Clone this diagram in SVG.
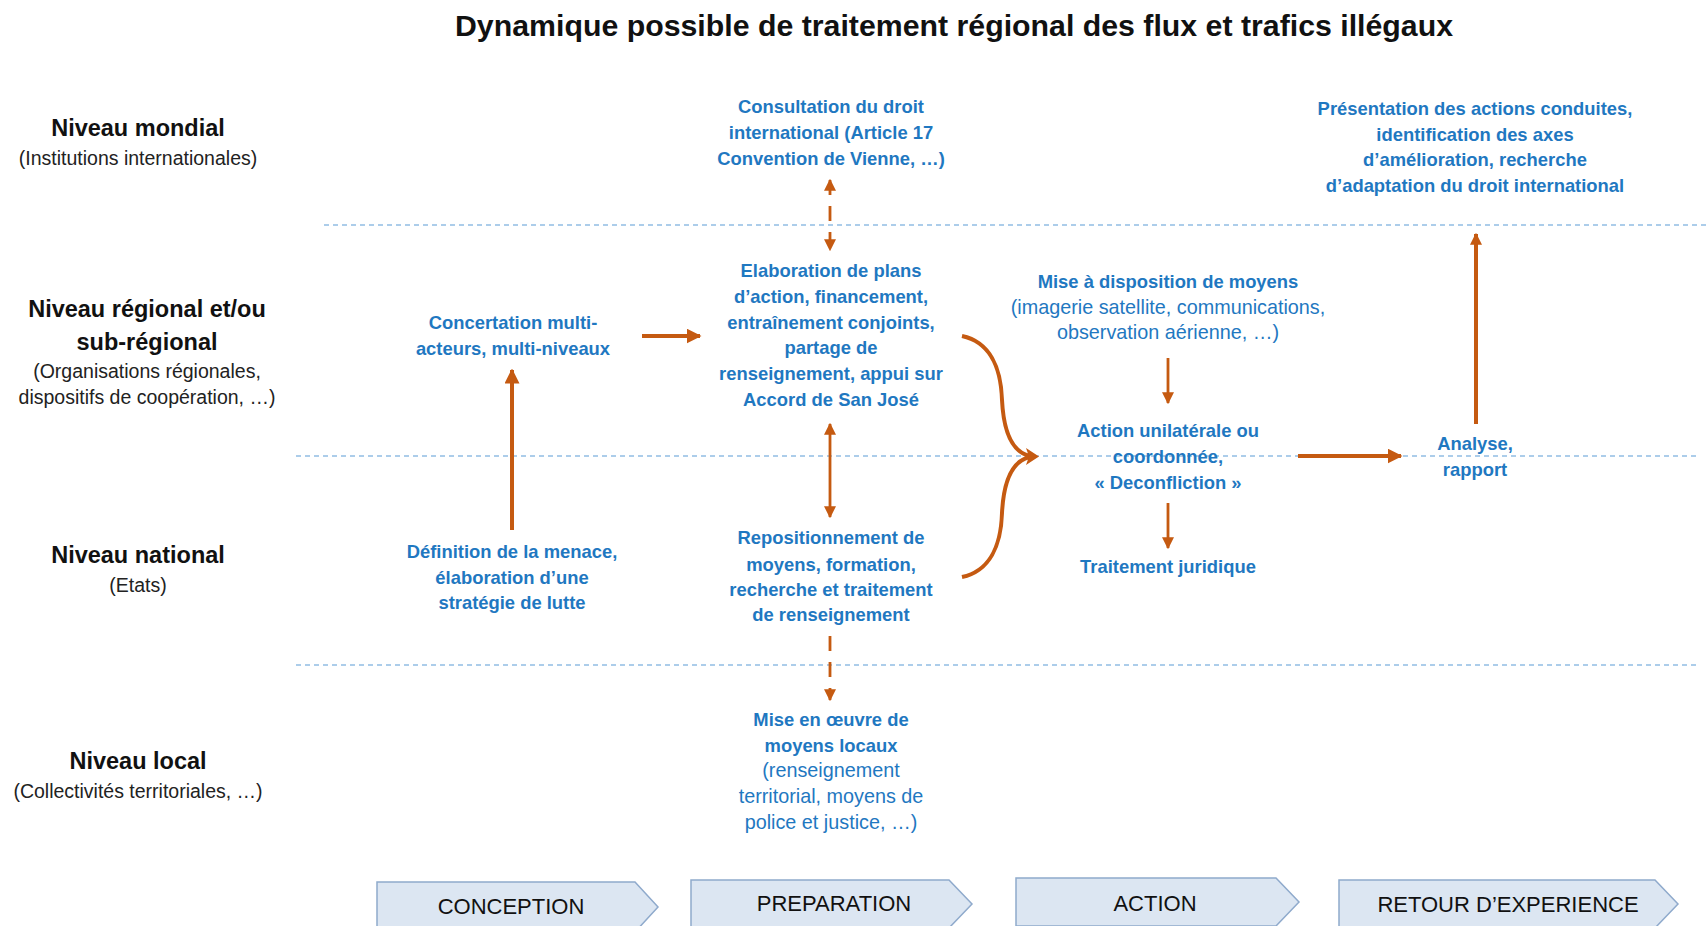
<svg xmlns="http://www.w3.org/2000/svg" width="1707" height="926" viewBox="0 0 1707 926">
<style>
.title{font-family:"Liberation Sans",Arial,sans-serif;font-weight:bold;font-size:29px;fill:#111;}
.lvl{font-family:"Liberation Sans",Arial,sans-serif;font-weight:bold;font-size:23.5px;fill:#111;text-anchor:middle;}
.lvs{font-family:"Liberation Sans",Arial,sans-serif;font-size:19.5px;fill:#222;text-anchor:middle;}
.bt{font-family:"Liberation Sans",Arial,sans-serif;font-weight:bold;font-size:18.4px;fill:#1f78c1;text-anchor:middle;}
.br{font-family:"Liberation Sans",Arial,sans-serif;font-size:19.8px;fill:#1f78c1;text-anchor:middle;}
.ph{font-family:"Liberation Sans",Arial,sans-serif;font-size:22px;fill:#111;text-anchor:middle;}
.sep{stroke:#5b9bd5;stroke-width:1.2;stroke-dasharray:5 4;fill:none;}
.chev{fill:#dce6f2;stroke:#8faacc;stroke-width:1.5;}
.a{stroke:#c55a11;fill:none;stroke-linecap:butt;}
.thin{stroke-width:2.8;}
.thick{stroke-width:4;}
.dash{stroke-dasharray:15 11;}
</style>
<defs>
<marker id="ah" viewBox="0 0 10 10" refX="9" refY="5" markerWidth="12" markerHeight="12" markerUnits="userSpaceOnUse" orient="auto-start-reverse">
<path d="M0,0 L10,5 L0,10 Z" fill="#c55a11"/>
</marker>
<marker id="ahb" viewBox="0 0 10 10" refX="9" refY="5" markerWidth="15" markerHeight="15" markerUnits="userSpaceOnUse" orient="auto-start-reverse">
<path d="M0,0 L10,5 L0,10 Z" fill="#c55a11"/>
</marker>
</defs>
<rect width="1707" height="926" fill="#ffffff"/>
<text class="title" x="455" y="36" textLength="998" lengthAdjust="spacingAndGlyphs">Dynamique possible de traitement régional des flux et trafics illégaux</text>

<g id="separators">
<line class="sep" x1="324" y1="225" x2="1707" y2="225"/>
<line class="sep" x1="296" y1="456" x2="1698" y2="456"/>
<line class="sep" x1="296" y1="665" x2="1698" y2="665"/>
</g>

<g id="level-mondial">
<text class="lvl" x="138" y="136">Niveau mondial</text>
<text class="lvs" x="138" y="165">(Institutions internationales)</text>
</g>
<g id="level-regional">
<text class="lvl" x="147" y="317">Niveau régional et/ou</text>
<text class="lvl" x="147" y="350">sub-régional</text>
<text class="lvs" x="147" y="378">(Organisations régionales,</text>
<text class="lvs" x="147" y="404">dispositifs de coopération, …)</text>
</g>
<g id="level-national">
<text class="lvl" x="138" y="563">Niveau national</text>
<text class="lvs" x="138" y="592">(Etats)</text>
</g>
<g id="level-local">
<text class="lvl" x="138" y="769">Niveau local</text>
<text class="lvs" x="138" y="798">(Collectivités territoriales, …)</text>
</g>

<g id="consultation">
<text class="bt" x="831" y="113">Consultation du droit</text>
<text class="bt" x="831" y="139">international (Article 17</text>
<text class="bt" x="831" y="165">Convention de Vienne, …)</text>
</g>
<g id="presentation">
<text class="bt" x="1475" y="115">Présentation des actions conduites,</text>
<text class="bt" x="1475" y="141">identification des axes</text>
<text class="bt" x="1475" y="166">d’amélioration, recherche</text>
<text class="bt" x="1475" y="192">d’adaptation du droit international</text>
</g>
<g id="concertation">
<text class="bt" x="513" y="329">Concertation multi-</text>
<text class="bt" x="513" y="355">acteurs, multi-niveaux</text>
</g>
<g id="elaboration">
<text class="bt" x="831" y="277">Elaboration de plans</text>
<text class="bt" x="831" y="303">d’action, financement,</text>
<text class="bt" x="831" y="329">entraînement conjoints,</text>
<text class="bt" x="831" y="354">partage de</text>
<text class="bt" x="831" y="380">renseignement, appui sur</text>
<text class="bt" x="831" y="406">Accord de San José</text>
</g>
<g id="mise-a-disposition">
<text class="bt" x="1168" y="288">Mise à disposition de moyens</text>
<text class="br" x="1168" y="314">(imagerie satellite, communications,</text>
<text class="br" x="1168" y="339">observation aérienne, …)</text>
</g>
<g id="action">
<text class="bt" x="1168" y="437">Action unilatérale ou</text>
<text class="bt" x="1168" y="463">coordonnée,</text>
<text class="bt" x="1168" y="489">« Deconfliction »</text>
</g>
<g id="analyse">
<text class="bt" x="1475" y="450">Analyse,</text>
<text class="bt" x="1475" y="476">rapport</text>
</g>
<g id="traitement">
<text class="bt" x="1168" y="573">Traitement juridique</text>
</g>
<g id="definition">
<text class="bt" x="512" y="558">Définition de la menace,</text>
<text class="bt" x="512" y="584">élaboration d’une</text>
<text class="bt" x="512" y="609">stratégie de lutte</text>
</g>
<g id="repositionnement">
<text class="bt" x="831" y="544">Repositionnement de</text>
<text class="bt" x="831" y="571">moyens, formation,</text>
<text class="bt" x="831" y="596">recherche et traitement</text>
<text class="bt" x="831" y="621">de renseignement</text>
</g>
<g id="mise-en-oeuvre">
<text class="bt" x="831" y="726">Mise en œuvre de</text>
<text class="bt" x="831" y="752">moyens locaux</text>
<text class="br" x="831" y="777">(renseignement</text>
<text class="br" x="831" y="803">territorial, moyens de</text>
<text class="br" x="831" y="829">police et justice, …)</text>
</g>

<g id="connectors">
<line class="a thin dash" x1="830" y1="180" x2="830" y2="250" marker-start="url(#ah)" marker-end="url(#ah)"/>
<line class="a thick" x1="642" y1="336" x2="700" y2="336" marker-end="url(#ahb)"/>
<line class="a thick" x1="512" y1="530" x2="512" y2="370" marker-end="url(#ahb)"/>
<line class="a thin" x1="830" y1="424" x2="830" y2="517" marker-start="url(#ah)" marker-end="url(#ah)"/>
<line class="a thin dash" x1="830" y1="636" x2="830" y2="700" marker-end="url(#ah)"/>
<path class="a thick" d="M962,336 C990,342 1001,368 1002,400 C1004,440 1016,453 1030,456"/>
<path class="a thick" d="M962,577 C990,571 1001,545 1002,513 C1004,473 1016,460 1030,457"/>
<path d="M1039,456.5 L1026,448 L1029,456.5 L1026,465 Z" fill="#c55a11"/>
<line class="a thin" x1="1168" y1="358" x2="1168" y2="403" marker-end="url(#ah)"/>
<line class="a thin" x1="1168" y1="503" x2="1168" y2="548" marker-end="url(#ah)"/>
<line class="a thick" x1="1298" y1="456" x2="1401" y2="456" marker-end="url(#ahb)"/>
<line class="a thick" x1="1476" y1="424" x2="1476" y2="234" marker-end="url(#ah)"/>
</g>

<g id="phase-conception">
<path class="chev" d="M377,882 L635,882 L658,907 L635,932 L377,932 Z"/>
<text class="ph" x="511" y="914">CONCEPTION</text>
</g>
<g id="phase-preparation">
<path class="chev" d="M691,880 L949,880 L972,904 L949,928 L691,928 Z"/>
<text class="ph" x="834" y="911">PREPARATION</text>
</g>
<g id="phase-action">
<path class="chev" d="M1016,878 L1276,878 L1299,902 L1276,926 L1016,926 Z"/>
<text class="ph" x="1155" y="911">ACTION</text>
</g>
<g id="phase-retour">
<path class="chev" d="M1339,880 L1655,880 L1678,904 L1655,928 L1339,928 Z"/>
<text class="ph" x="1508" y="912">RETOUR D’EXPERIENCE</text>
</g>
</svg>
